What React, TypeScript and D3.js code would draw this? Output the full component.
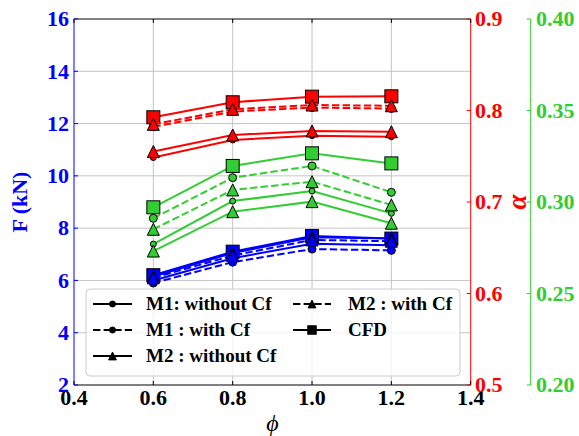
import React from "react";
import * as d3 from "d3";

const phi = [0.6, 0.8, 1.0, 1.2];
const xTicks = [0.4, 0.6, 0.8, 1.0, 1.2, 1.4];
const fTicks = [2, 4, 6, 8, 10, 12, 14, 16];
const aTicks = [0.5, 0.6, 0.7, 0.8, 0.9];
const gTicks = [0.2, 0.25, 0.3, 0.35, 0.4];

// Blue: force F (kN)
const F_M1_noCf = [6.0, 6.85, 7.4, 7.35];
const F_M1_Cf = [5.9, 6.7, 7.2, 7.15];
const F_M2_noCf = [6.15, 7.05, 7.65, 7.6];
const F_M2_Cf = [6.1, 6.95, 7.55, 7.5];
const F_CFD = [6.2, 7.1, 7.7, 7.6];

// Red: alpha (red axis)
const R_M1_noCf = [0.7486, 0.7678, 0.7725, 0.7714];
const R_M1_Cf = [0.7822, 0.7988, 0.8032, 0.8022];
const R_M2_noCf = [0.7552, 0.7732, 0.7776, 0.7768];
const R_M2_Cf = [0.7849, 0.8013, 0.806, 0.8052];
const R_CFD = [0.7926, 0.809, 0.8151, 0.8155];

// Green: green axis
const G_M1_noCf = [0.277, 0.3005, 0.306, 0.2938];
const G_M1_Cf = [0.2911, 0.3133, 0.3197, 0.3053];
const G_M2_noCf = [0.2732, 0.2947, 0.3002, 0.2884];
const G_M2_Cf = [0.2851, 0.3066, 0.3111, 0.2984];
const G_CFD = [0.2971, 0.3197, 0.3266, 0.3211];

const legendLabels = ["M1: without Cf", "M1 : with Cf", "M2 : without Cf", "M2 : with Cf", "CFD"];

const BLUE = "#0000ff";
const RED = "#ff0000";
const GREEN = "#32cd32";
const FONT = "'Liberation Serif', 'Times New Roman', serif";

const L = 74, R = 470.7, T = 19, B = 385, G = 530.7;
const x = d3.scaleLinear().domain([0.4, 1.4]).range([L, R]);
const yF = d3.scaleLinear().domain([2, 16]).range([B, T]);
const yA = d3.scaleLinear().domain([0.5, 0.9]).range([B, T]);
const yG = d3.scaleLinear().domain([0.2, 0.4]).range([B, T]);

type Kind = "circleS" | "circleL" | "tri" | "sq";

function Marker({ cx, cy, kind, fill, scale = 1 }: { cx: number; cy: number; kind: Kind; fill: string; scale?: number }) {
  if (kind === "circleS") return <circle cx={cx} cy={cy} r={3 * scale} fill={fill} stroke="#000" strokeWidth={1} />;
  if (kind === "circleL") return <circle cx={cx} cy={cy} r={4 * scale} fill={fill} stroke="#000" strokeWidth={1} />;
  if (kind === "tri") {
    const h = 6 * scale;
    return (
      <polygon
        points={`${cx},${cy - h} ${cx - h},${cy + h} ${cx + h},${cy + h}`}
        fill={fill}
        stroke="#000"
        strokeWidth={1}
      />
    );
  }
  const s = 6.5 * scale;
  return <rect x={cx - s} y={cy - s} width={2 * s} height={2 * s} fill={fill} stroke="#000" strokeWidth={1} />;
}

function Series({ vals, y, color, dashed, kind }: { vals: number[]; y: d3.ScaleLinear<number, number>; color: string; dashed: boolean; kind: Kind }) {
  const line = d3.line<number>().x((_, i) => x(phi[i])).y((v) => y(v));
  return (
    <g>
      <path d={line(vals) || ""} fill="none" stroke={color} strokeWidth={2} strokeDasharray={dashed ? "7.4,3.2" : undefined} />
      {vals.map((v, i) => (
        <Marker key={i} cx={x(phi[i])} cy={y(v)} kind={kind} fill={color} />
      ))}
    </g>
  );
}

function Group({ color, y, m1n, m1c, m2n, m2c, cfd }: any) {
  return (
    <g>
      <Series vals={cfd} y={y} color={color} dashed={false} kind="sq" />
      <Series vals={m1n} y={y} color={color} dashed={false} kind="circleS" />
      <Series vals={m1c} y={y} color={color} dashed={true} kind="circleL" />
      <Series vals={m2n} y={y} color={color} dashed={false} kind="tri" />
      <Series vals={m2c} y={y} color={color} dashed={true} kind="tri" />
    </g>
  );
}

export default function App() {
  const legendItems: { label: string; dashed: boolean; kind: Kind; col: number; row: number }[] = [
    { label: legendLabels[0], dashed: false, kind: "circleS", col: 0, row: 0 },
    { label: legendLabels[1], dashed: true, kind: "circleS", col: 0, row: 1 },
    { label: legendLabels[2], dashed: false, kind: "tri", col: 0, row: 2 },
    { label: legendLabels[3], dashed: true, kind: "tri", col: 1, row: 0 },
    { label: legendLabels[4], dashed: false, kind: "sq", col: 1, row: 1 },
  ];
  const colX = [[93, 132, 146], [293, 331, 348]];
  const rowY = [304, 330, 356];

  return (
    <svg width={579} height={436} style={{ position: "absolute", left: 0, top: 0, background: "#fff" }} fontFamily={FONT}>
      <rect x={0} y={0} width={579} height={436} fill="#fff" />
      {/* grid */}
      {xTicks.slice(1, -1).map((t) => (
        <line key={"gx" + t} x1={x(t)} x2={x(t)} y1={T} y2={B} stroke="#c4c4c4" strokeWidth={1} />
      ))}
      {fTicks.slice(1, -1).map((t) => (
        <line key={"gy" + t} x1={L} x2={R} y1={yF(t)} y2={yF(t)} stroke="#c4c4c4" strokeWidth={1} />
      ))}

      <Group color={BLUE} y={yF} m1n={F_M1_noCf} m1c={F_M1_Cf} m2n={F_M2_noCf} m2c={F_M2_Cf} cfd={F_CFD} />
      <Group color={GREEN} y={yG} m1n={G_M1_noCf} m1c={G_M1_Cf} m2n={G_M2_noCf} m2c={G_M2_Cf} cfd={G_CFD} />
      <Group color={RED} y={yA} m1n={R_M1_noCf} m1c={R_M1_Cf} m2n={R_M2_noCf} m2c={R_M2_Cf} cfd={R_CFD} />

      {/* legend */}
      <rect x={86} y={289} width={374} height={87} rx={4} fill="#fff" fillOpacity={0.8} stroke="#cccccc" strokeWidth={1} />
      {legendItems.map((it, i) => {
        const [x1, x2, tx] = colX[it.col];
        const yy = rowY[it.row];
        const mx = (x1 + x2) / 2;
        return (
          <g key={i}>
            <line x1={x1} x2={x2} y1={yy} y2={yy} stroke="#000" strokeWidth={2} strokeDasharray={it.dashed ? "7.4,3.2" : undefined} />
            <Marker cx={mx} cy={yy} kind={it.kind} fill="#000" scale={it.kind === "circleS" ? 1 : 0.65} />
            <text x={tx} y={yy + 6} fontSize={19} fontWeight="bold" fill="#000">{it.label}</text>
          </g>
        );
      })}

      {/* spines */}
      <line x1={L} x2={R} y1={T} y2={T} stroke="#000" strokeWidth={1} />
      <line x1={L} x2={R} y1={B} y2={B} stroke="#000" strokeWidth={1} />
      <line x1={L} x2={L} y1={T} y2={B} stroke={BLUE} strokeWidth={1} />
      <line x1={R} x2={R} y1={T} y2={B} stroke={RED} strokeWidth={1} />
      <line x1={G} x2={G} y1={T} y2={B} stroke={GREEN} strokeWidth={1} />

      {/* x ticks */}
      {xTicks.map((t) => (
        <g key={"xt" + t}>
          <line x1={x(t)} x2={x(t)} y1={B} y2={B - 4} stroke="#000" />
          <line x1={x(t)} x2={x(t)} y1={T} y2={T + 4} stroke="#000" />
          <text x={x(t)} y={B + 20} textAnchor="middle" fontSize={22} fontWeight="bold" fill="#000">{t.toFixed(1)}</text>
        </g>
      ))}
      {/* left ticks */}
      {fTicks.map((t) => (
        <g key={"ft" + t}>
          <line x1={L} x2={L + 4} y1={yF(t)} y2={yF(t)} stroke={BLUE} />
          <text x={69} y={yF(t)} dy="0.33em" textAnchor="end" fontSize={22} fontWeight="bold" fill={BLUE}>{t}</text>
        </g>
      ))}
      {/* red ticks */}
      {aTicks.map((t) => (
        <g key={"at" + t}>
          <line x1={R - 4} x2={R} y1={yA(t)} y2={yA(t)} stroke={RED} />
          <text x={475} y={yA(t)} dy="0.33em" fontSize={22} fontWeight="bold" fill={RED}>{t.toFixed(1)}</text>
        </g>
      ))}
      {/* green ticks */}
      {gTicks.map((t) => (
        <g key={"gt" + t}>
          <line x1={G - 4} x2={G} y1={yG(t)} y2={yG(t)} stroke={GREEN} />
          <text x={536} y={yG(t)} dy="0.33em" fontSize={22} fontWeight="bold" fill={GREEN}>{t.toFixed(2)}</text>
        </g>
      ))}

      {/* axis labels */}
      <text x={(L + R) / 2} y={431} textAnchor="middle" fontSize={24} fontStyle="italic" fill="#000">ϕ</text>
      <text transform={`translate(27,${(T + B) / 2}) rotate(-90)`} textAnchor="middle" fontSize={22} fontWeight="bold" fill={BLUE}>F (kN)</text>
      <text transform={`translate(526,${(T + B) / 2}) rotate(-90)`} textAnchor="middle" fontSize={27} fontStyle="italic" fontWeight="bold" fill={RED}>α</text>
    </svg>
  );
}
